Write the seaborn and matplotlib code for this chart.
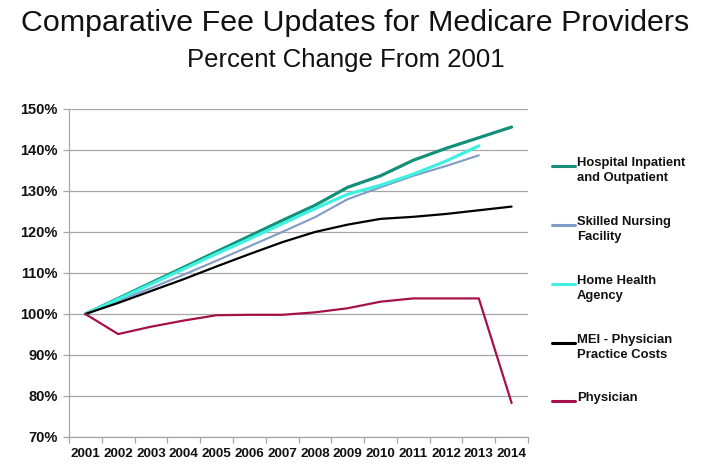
import numpy as np
import pandas as pd
import matplotlib
matplotlib.use("Agg")
import matplotlib.pyplot as plt
import seaborn as sns
from matplotlib.lines import Line2D
from matplotlib.ticker import FixedLocator, PercentFormatter

# --- Data (percent of 2001 level) ---
years = list(range(2001, 2015))
series_names = [
    "Hospital Inpatient\nand Outpatient",
    "Skilled Nursing\nFacility",
    "Home Health\nAgency",
    "MEI - Physician\nPractice Costs",
    "Physician",
]
hospital = [100, 103.8, 107.6, 111.4, 115.2, 119.0, 122.8, 126.5, 130.9, 133.7, 137.5, 140.4, 143.0, 145.6]
snf = [100, 103.2, 106.3, 109.6, 113.0, 116.5, 120.0, 123.6, 128.0, 130.9, 133.7, 136.1, 138.7, np.nan]
home_health = [100, 103.6, 107.3, 111.0, 114.7, 118.3, 122.0, 125.7, 129.2, 131.4, 134.1, 137.3, 141.0, np.nan]
mei = [100, 102.7, 105.6, 108.5, 111.6, 114.6, 117.5, 120.0, 121.8, 123.2, 123.7, 124.4, 125.3, 126.2]
physician = [100, 95.1, 96.9, 98.4, 99.7, 99.8, 99.8, 100.4, 101.4, 103.0, 103.8, 103.8, 103.8, 78.3]

colors = ["#14907A", "#7F9CC6", "#40F0E0", "#000000", "#A5124A"]
widths = [2.3, 1.5, 2.3, 1.6, 1.6]

values = [hospital, snf, home_health, mei, physician]
df = pd.concat(
    [pd.DataFrame({"Year": years, "Value": v, "Series": n}) for n, v in zip(series_names, values)]
).dropna()

# --- Plot ---
sns.set_theme(style="white")
plt.rcParams["font.family"] = ["Liberation Sans", "DejaVu Sans"]

fig = plt.figure(figsize=(7.08, 4.71), dpi=100)
ax = fig.add_axes([69 / 708, 1 - 437 / 471, (528 - 69) / 708, (437 - 109) / 471])

for name, col, lw in zip(series_names, colors, widths):
    sns.lineplot(
        data=df[df["Series"] == name], x="Year", y="Value",
        color=col, linewidth=lw, ax=ax, legend=False, estimator=None,
    )

ax.set_xlim(2000.5, 2014.5)
ax.set_ylim(70, 150)
ax.set_yticks(np.arange(70, 151, 10))
ax.yaxis.set_major_formatter(PercentFormatter(decimals=0))
ax.yaxis.grid(True, color="#A6A6A6", linewidth=0.9)
ax.set_axisbelow(True)

ax.set_xticks(years)
ax.set_xticklabels([str(y) for y in years])
ax.xaxis.set_minor_locator(FixedLocator(np.arange(2000.5, 2015, 1)))
ax.tick_params(axis="x", which="major", length=0, pad=8)
ax.tick_params(axis="x", which="minor", length=4, color="#A6A6A6", width=0.9, direction="out", bottom=True)
ax.tick_params(axis="y", length=4, color="#A6A6A6", width=0.9, direction="out", left=True, pad=4)
for lab in ax.get_xticklabels():
    lab.set_fontweight("bold")
    lab.set_fontsize(9.7)
    lab.set_color("#111111")
for lab in ax.get_yticklabels():
    lab.set_fontweight("bold")
    lab.set_fontsize(10.5)
    lab.set_color("#111111")

ax.set_xlabel("")
ax.set_ylabel("")
for side in ["top", "right"]:
    ax.spines[side].set_visible(False)
for side in ["left", "bottom"]:
    ax.spines[side].set_color("#A6A6A6")
    ax.spines[side].set_linewidth(0.9)

# titles
fig.text(355 / 708, 1 - 23 / 471, "Comparative Fee Updates for Medicare Providers",
         ha="center", va="center", fontsize=21.9, color="#111111")
fig.text(346 / 708, 1 - 60 / 471, "Percent Change From 2001",
         ha="center", va="center", fontsize=18.5, color="#111111")

# legend drawn on the right like the original
legend_y = [166, 225, 284, 343, 401]
for name, col, lw, ypx in zip(series_names, colors, widths, legend_y):
    yf = 1 - ypx / 471
    fig.add_artist(Line2D([552 / 708, 575 / 708], [yf, yf], color=col, linewidth=2.2,
                          transform=fig.transFigure))
    fig.text(577 / 708, yf + 8.5 / 471, name, ha="left", va="top", fontsize=9.4,
             fontweight="bold", color="#111111", linespacing=1.25)

fig.savefig("out.png", dpi=100)
